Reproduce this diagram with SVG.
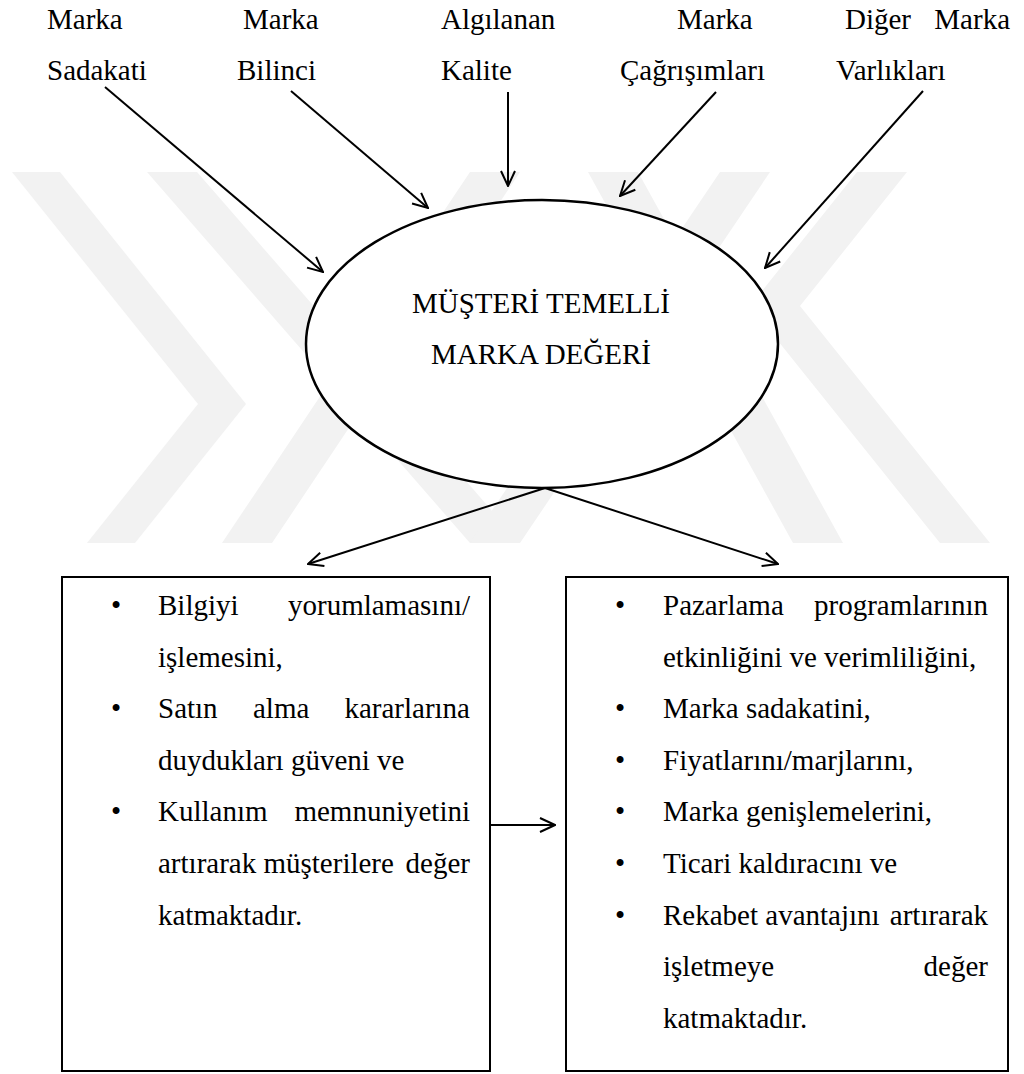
<svg xmlns="http://www.w3.org/2000/svg" width="1024" height="1074" viewBox="0 0 1024 1074">
  <defs>
    <marker id="arrow" viewBox="0 0 18 18" refX="17" refY="9" markerWidth="18" markerHeight="18" markerUnits="userSpaceOnUse" orient="auto">
      <path d="M2,2 L17,9 L2,16" fill="none" stroke="#000" stroke-width="2"/>
    </marker>
  </defs>
  <style>
    text { font-family: "Liberation Serif", "Times New Roman", serif; font-size: 29px; fill: #000; }
    .c { text-anchor: middle; }
    .e { text-anchor: end; }
    .link { stroke: #000; stroke-width: 2; fill: none; marker-end: url(#arrow); }
    .box { fill: none; stroke: #000; stroke-width: 2; }
    .mark { fill: #f2f2f2; }
  </style>
  <rect width="1024" height="1074" fill="#fff"/>

  <!-- faint background emblem -->
  <g id="emblem">
    <polygon class="mark" points="12,172 60,172 246,404 135,543 87,543 198,404"/>
    <polygon class="mark" points="147,172 197,172 520,543 470,543"/>
    <polygon class="mark" points="470,172 520,172 272,543 222,543"/>
    <polygon class="mark" points="588,172 638,172 843,543 793,543"/>
    <polygon class="mark" points="720,172 770,172 520,543 470,543"/>
    <polygon class="mark" points="857,172 907,172 800,306 990,543 940,543 750,306"/>
  </g>

  <!-- source labels -->
  <g id="marka-sadakati">
    <text x="47" y="29">Marka</text>
    <text x="47" y="80">Sadakati</text>
  </g>
  <g id="marka-bilinci">
    <text x="243" y="29">Marka</text>
    <text x="237" y="80">Bilinci</text>
  </g>
  <g id="algilanan-kalite">
    <text x="441" y="29">Algılanan</text>
    <text x="441" y="80">Kalite</text>
  </g>
  <g id="marka-cagrisimlari">
    <text x="677" y="29">Marka</text>
    <text x="620" y="80">Çağrışımları</text>
  </g>
  <g id="diger-marka-varliklari">
    <text x="845" y="29">Diğer</text>
    <text x="1010" y="29" class="e">Marka</text>
    <text x="836" y="80">Varlıkları</text>
  </g>

  <!-- central ellipse -->
  <g id="musteri-temelli-marka-degeri">
    <ellipse cx="542" cy="344" rx="236" ry="144" fill="#fff" stroke="#000" stroke-width="2.5"/>
    <text x="541" y="313" class="c">MÜŞTERİ TEMELLİ</text>
    <text x="541" y="364" class="c">MARKA DEĞERİ</text>
  </g>

  <!-- customer value box -->
  <g id="musteri-degeri">
    <rect class="box" x="62" y="577" width="428" height="494"/>
    <text x="111" y="615">•</text>
    <text x="158" y="615">Bilgiyi</text>
    <text x="470" y="615" class="e">yorumlamasını/</text>
    <text x="158" y="666.6">işlemesini,</text>
    <text x="111" y="718.2">•</text>
    <text x="158" y="718.2">Satın</text>
    <text x="253" y="718.2">alma</text>
    <text x="470" y="718.2" class="e">kararlarına</text>
    <text x="158" y="769.8">duydukları güveni ve</text>
    <text x="111" y="821.4">•</text>
    <text x="158" y="821.4">Kullanım</text>
    <text x="470" y="821.4" class="e">memnuniyetini</text>
    <text x="158" y="873">artırarak müşterilere</text>
    <text x="470" y="873" class="e">değer</text>
    <text x="158" y="924.6">katmaktadır.</text>
  </g>

  <!-- firm value box -->
  <g id="isletme-degeri">
    <rect class="box" x="566" y="577" width="442" height="494"/>
    <text x="615" y="615">•</text>
    <text x="663" y="615">Pazarlama</text>
    <text x="988" y="615" class="e">programlarının</text>
    <text x="663" y="666.6">etkinliğini ve verimliliğini,</text>
    <text x="615" y="718.2">•</text>
    <text x="663" y="718.2">Marka sadakatini,</text>
    <text x="615" y="769.8">•</text>
    <text x="663" y="769.8">Fiyatlarını/marjlarını,</text>
    <text x="615" y="821.4">•</text>
    <text x="663" y="821.4">Marka genişlemelerini,</text>
    <text x="615" y="873">•</text>
    <text x="663" y="873">Ticari kaldıracını ve</text>
    <text x="615" y="924.6">•</text>
    <text x="663" y="924.6">Rekabet avantajını</text>
    <text x="988" y="924.6" class="e">artırarak</text>
    <text x="663" y="976.2">işletmeye</text>
    <text x="988" y="976.2" class="e">değer</text>
    <text x="663" y="1027.8">katmaktadır.</text>
  </g>

  <!-- connectors -->
  <g id="connectors">
    <line class="link" x1="105" y1="87" x2="323" y2="272"/>
    <line class="link" x1="291" y1="91" x2="428" y2="208"/>
    <line class="link" x1="508" y1="92" x2="508" y2="186"/>
    <line class="link" x1="716" y1="92" x2="620" y2="196"/>
    <line class="link" x1="923" y1="91" x2="765" y2="268"/>
    <line class="link" x1="545" y1="488" x2="308" y2="564"/>
    <line class="link" x1="545" y1="488" x2="778" y2="564"/>
    <line class="link" x1="490" y1="825" x2="555" y2="825"/>
  </g>
</svg>
